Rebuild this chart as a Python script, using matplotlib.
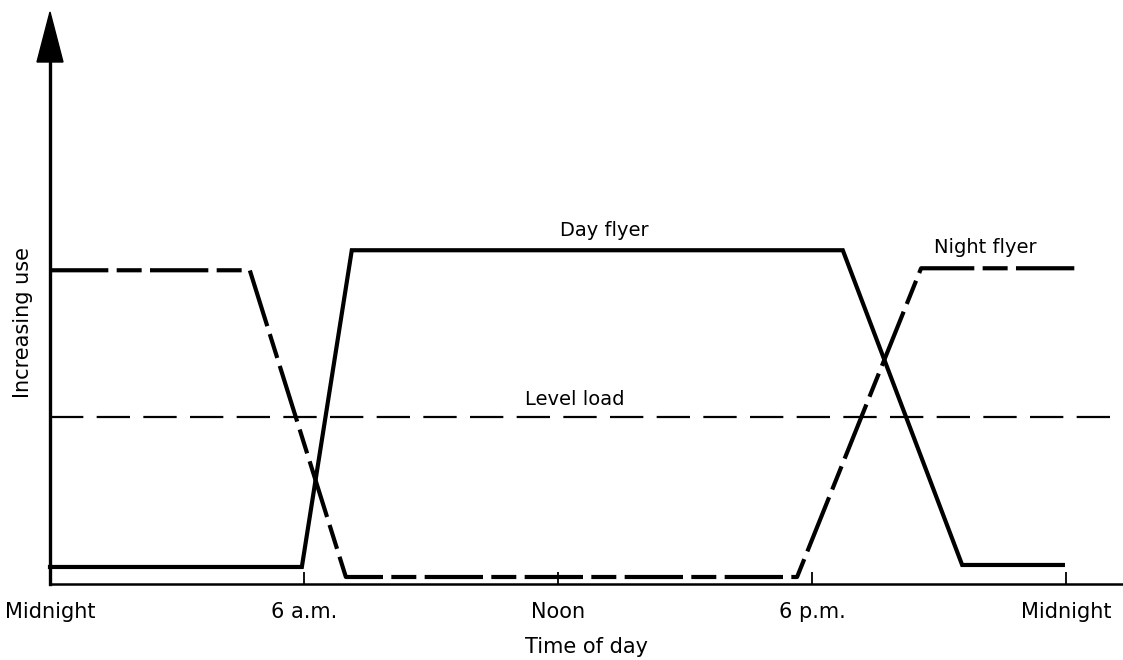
import matplotlib
matplotlib.use('Agg')
import matplotlib.pyplot as plt
from matplotlib.patches import Polygon

# hours of day vs relative use (arbitrary units)
day_hours = [0, 5.95, 7.13, 18.73, 21.55, 23.93]
day_use = [0.51, 0.51, 10.0, 10.0, 0.57, 0.57]

night_hours = [0, 4.72, 6.99, 17.65, 20.58, 24.33]
night_use = [9.4, 9.4, 0.21, 0.21, 9.46, 9.46]

level_use = 5.0

tick_hours = [0, 6, 12, 18, 24]
tick_labels = ['Midnight', '6 a.m.', 'Noon', '6 p.m.', 'Midnight']

plt.rcParams['font.family'] = ['DejaVu Sans']

fig = plt.figure(figsize=(11.23, 6.6), dpi=100)
ax = fig.add_axes([50 / 1123, 76 / 660, 1 - 50 / 1123, (584 - 60) / 660])
ax.set_xlim(0, 25.35)
ax.set_ylim(0, 15.7)

# curves
ax.plot(day_hours, day_use, color='black', lw=3.0, solid_joinstyle='miter',
        clip_on=False)
ax.plot(night_hours, night_use, color='black', lw=3.0, dashes=(14, 2, 6, 2),
        clip_on=False)
ax.axhline(level_use, xmin=0, xmax=1, color='black', lw=1.6, dashes=(15, 6))

# labels on the chart
ax.text(13.1, 10.3, 'Day flyer', ha='center', va='bottom', fontsize=14)
ax.text(22.1, 9.8, 'Night flyer', ha='center', va='bottom', fontsize=14)
ax.text(12.4, 5.25, 'Level load', ha='center', va='bottom', fontsize=14)

# axes styling
for s in ['top', 'right']:
    ax.spines[s].set_visible(False)
ax.spines['left'].set_linewidth(2.4)
ax.spines['bottom'].set_linewidth(1.8)
ax.set_yticks([])
ax.set_xticks(tick_hours)
ax.set_xticklabels(tick_labels, fontsize=15)
ax.tick_params(axis='x', direction='in', length=9, width=1.3, pad=13)
ax.set_xlabel('Time of day', fontsize=15, labelpad=11)
ax.set_ylabel('Increasing use', fontsize=15, labelpad=12)

# arrow head on the y axis
head = Polygon([(50 / 1123, 648 / 660), (37 / 1123, 598 / 660),
                (63 / 1123, 598 / 660)], closed=True, facecolor='black',
               edgecolor='black', transform=fig.transFigure)
fig.patches.append(head)

fig.savefig('out.png', dpi=100)
